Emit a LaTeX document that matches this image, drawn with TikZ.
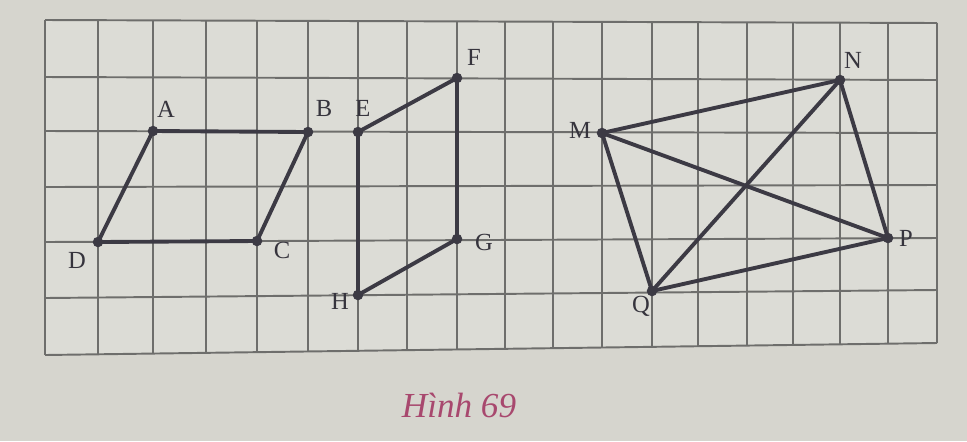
\documentclass[tikz,border=0pt]{standalone}
\usepackage{fontspec}
\setmainfont{Liberation Serif}
\definecolor{paper}{HTML}{D6D5CE}
\definecolor{gridbg}{HTML}{DCDCD6}
\definecolor{gridline}{HTML}{6E6E6C}
\definecolor{figline}{HTML}{3C3A44}
\definecolor{capcol}{HTML}{A8486E}
\tikzset{
  gridln/.style={draw=gridline, line width=1.1pt},
  fig/.style={draw=figline, line width=2.2pt, line join=round, line cap=round},
  dotpt/.style={circle, fill=figline, inner sep=0pt, minimum size=6pt},
  lbl/.style={font=\fontsize{14}{16}\selectfont, text=figline!90!black, inner sep=0pt},
  caption/.style={font=\fontsize{20}{22}\selectfont\itshape, text=capcol, inner sep=0pt}
}
\begin{document}
\begin{tikzpicture}[x=0.02cm,y=-0.02cm]
\useasboundingbox (0,0) rectangle (967,441);
\fill[paper] (0,0) rectangle (967,441);
\fill[gridbg] (45,20) -- (937,23) -- (937,343) -- (45,355) -- cycle;
% vertical grid lines
\foreach \x in {45,98,153,206,257,308,358,407,457,505,553,602,652,698,747,793,840,888,937}{
  \pgfmathsetmacro{\yt}{20+3*(\x-45)/892}
  \pgfmathsetmacro{\yb}{355-12*(\x-45)/892}
  \draw[gridln] (\x,\yt) -- (\x,\yb);
}
% horizontal grid lines
\foreach \yl/\yr in {20/23,77/80,131/133,187/185,242/238,298/290,355/343}{
  \draw[gridln] (45,\yl) -- (937,\yr);
}
% points
\coordinate (A) at (153,131);
\coordinate (B) at (308,132);
\coordinate (C) at (257,241);
\coordinate (D) at (98,242);
\coordinate (E) at (358,132);
\coordinate (F) at (457,78);
\coordinate (G) at (457,239);
\coordinate (H) at (358,295);
\coordinate (M) at (602,133);
\coordinate (N) at (840,80);
\coordinate (P) at (888,238);
\coordinate (Q) at (652,291);
% figures
\draw[fig] (A) -- (B) -- (C) -- (D) -- cycle;
\draw[fig] (E) -- (F) -- (G) -- (H) -- cycle;
\draw[fig] (M) -- (N) -- (P) -- (Q) -- cycle;
\draw[fig] (M) -- (P);
\draw[fig] (N) -- (Q);
\foreach \p in {A,B,C,D,E,F,G,H,M,N,P,Q}{
  \node[dotpt] (d\p) at (\p) {};
}
% labels
\node[lbl] (lA) at (166,109) {A};
\node[lbl] (lB) at (324,108) {B};
\node[lbl] (lC) at (282,250) {C};
\node[lbl] (lD) at (77,260) {D};
\node[lbl] (lE) at (363,108) {E};
\node[lbl] (lF) at (474,57) {F};
\node[lbl] (lG) at (484,242) {G};
\node[lbl] (lH) at (340,301) {H};
\node[lbl] (lM) at (580,130) {M};
\node[lbl] (lN) at (853,60) {N};
\node[lbl] (lP) at (906,238) {P};
\node[lbl] (lQ) at (641,306) {Q};
% caption
\node[caption] (cap) at (459,405) {Hình 69};
\end{tikzpicture}
\end{document}
